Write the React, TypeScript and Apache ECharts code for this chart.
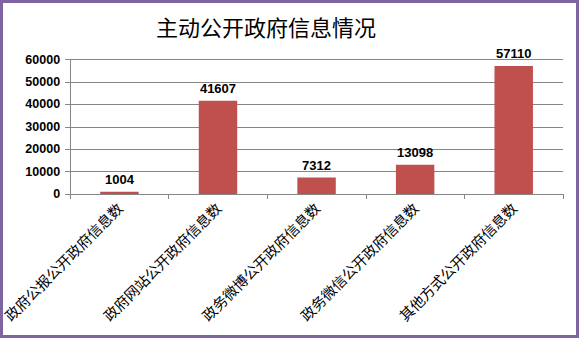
import React, { useEffect, useRef } from "react";
import * as echarts from "echarts";

const title = "主动公开政府信息情况";
const categories = [
  "政府公报公开政府信息数",
  "政府网站公开政府信息数",
  "政务微博公开政府信息数",
  "政务微信公开政府信息数",
  "其他方式公开政府信息数",
];
const values = [1004, 41607, 7312, 13098, 57110];
const yTicks = [0, 10000, 20000, 30000, 40000, 50000, 60000];

export default function App() {
  const ref = useRef<HTMLDivElement>(null);
  useEffect(() => {
    document.body.style.margin = "0";
    const chart = echarts.init(ref.current!, null, { renderer: "svg" });
    chart.setOption({
      animation: false,
      backgroundColor: "#ffffff",
      title: {
        text: title,
        left: 151,
        top: 10,
        textStyle: {
          fontFamily: "Noto Sans CJK SC",
          fontSize: 22,
          fontWeight: "normal",
          color: "#000000",
        },
      },
      graphic: [
        {
          type: "rect",
          shape: { x: 1.5, y: 1.5, width: 576, height: 335 },
          style: { fill: "none", stroke: "#8064A2", lineWidth: 3 },
          z: 100,
        },
      ],
      grid: { left: 64, right: 17, top: 59.6, bottom: 144, containLabel: false },
      xAxis: {
        type: "category",
        data: categories,
        axisLine: { show: true, lineStyle: { color: "#868686", width: 1 } },
        axisTick: { show: true, length: 5, lineStyle: { color: "#868686" } },
        axisLabel: {
          rotate: 45,
          interval: 0,
          margin: 11,
          fontFamily: "Noto Sans CJK SC",
          fontSize: 14.5,
          color: "#000000",
        },
      },
      yAxis: {
        type: "value",
        min: yTicks[0],
        max: yTicks[yTicks.length - 1],
        interval: 10000,
        axisLine: { show: true, lineStyle: { color: "#868686" } },
        axisTick: { show: true, length: 5, lineStyle: { color: "#868686" } },
        splitLine: { show: true, lineStyle: { color: "#868686", width: 1 } },
        axisLabel: {
          margin: 10,
          formatter: (v: number) => String(v),
          fontFamily: "Liberation Sans",
          fontWeight: "bold",
          fontSize: 12.5,
          color: "#000000",
        },
      },
      series: [
        {
          type: "bar",
          data: values,
          barWidth: "39%",
          itemStyle: { color: "#C0504D" },
          label: {
            show: true,
            position: "top",
            distance: 6,
            fontFamily: "Liberation Sans",
            fontWeight: "bold",
            fontSize: 13,
            color: "#000000",
          },
        },
      ],
    });
    return () => chart.dispose();
  }, []);
  return (
    <div
      ref={ref}
      style={{ position: "absolute", left: 0, top: 0, width: 580, height: 338 }}
    />
  );
}
